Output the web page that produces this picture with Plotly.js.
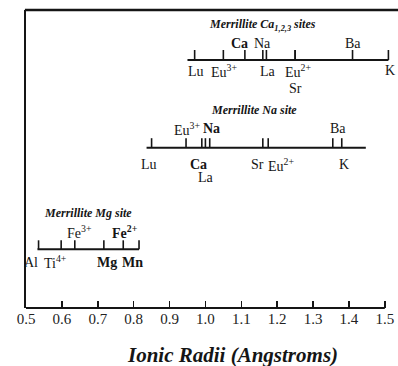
<!DOCTYPE html>
<html>
<head>
<meta charset="utf-8">
<script src="https://cdn.plot.ly/plotly-3.0.1.min.js"></script>
<style>html,body{margin:0;padding:0;background:#fff;}#chart{width:398px;height:366px;}</style>
</head>
<body>
<div id="chart"></div>
<script>
// ---- axis ticks ----
const axisTickVals = [0.5,0.6,0.7,0.8,0.9,1.0,1.1,1.2,1.3,1.4,1.5];
const axisTickText = ['0.5','0.6','0.7','0.8','0.9','1.0','1.1','1.2','1.3','1.4','1.5'];

// ---- Merrillite Ca1,2,3 sites ----
const caIons  = ['Lu','Eu<sup>3+</sup>','Ca','La','Na','Eu<sup>2+</sup>','Sr','Ba','K'];
const caRadii = [0.97, 1.05, 1.11, 1.16, 1.17, 1.25, 1.25, 1.41, 1.51];
const caSpan  = [0.95, 1.51];

// ---- Merrillite Na site ----
const naIons  = ['Lu','Eu<sup>3+</sup>','Ca','La','Na','Sr','Eu<sup>2+</sup>','Ba','K'];
const naRadii = [0.85, 0.946, 0.99, 1.00, 1.012, 1.16, 1.175, 1.355, 1.38];
const naSpan  = [0.836, 1.447];

// ---- Merrillite Mg site ----
const mgIons  = ['Al','Ti<sup>4+</sup>','Fe<sup>3+</sup>','Mg','Fe<sup>2+</sup>','Mn'];
const mgRadii = [0.535, 0.598, 0.636, 0.717, 0.771, 0.815];
const mgSpan  = [0.532, 0.815];

// ---- placement / style (not data) ----
const INK = '#151515';
const SERIF = 'Liberation Serif, Times New Roman, serif';
const groups = [
  {ions: caIons, radii: caRadii, span: caSpan, level: 248, tick: 10,
   title: '<b><i>Merrillite Ca<sub>1,2,3</sub> sites</i></b>', titleX: 1.158, titleY: 283,
   // [xshift, yshift, bold]
   place: [[1,-11,0],[1,-11,0],[-5,17,1],[5,-11,0],[-4,17,0],[3,-11,0],[0,-28,0],[0,17,0],[2,-10,0]]},
  {ions: naIons, radii: naRadii, span: naSpan, level: 160.3, tick: 9.5,
   title: '<b><i>Merrillite Na site</i></b>', titleX: 1.135, titleY: 198,
   place: [[-3,-17,0],[1,19,0],[-3,-17,1],[1,-30,0],[2,19,1],[-5,-17,0],[13,-17,0],[5,19,0],[2,-17,0]]},
  {ions: mgIons, radii: mgRadii, span: mgSpan, level: 58.7, tick: 9,
   title: '<b><i>Merrillite Mg site</i></b>', titleX: 0.673, titleY: 95,
   place: [[-8,-13,0],[-6,-13,0],[5,17,0],[3,-13,1],[2,17,1],[-7,-13,1]]}
];

const traces = [];
const annotations = [];
groups.forEach(g => {
  traces.push({x: g.span, y: [g.level, g.level], mode: 'lines', type: 'scatter',
    line: {color: INK, width: 2}, hoverinfo: 'skip', showlegend: false});
  const tx = [], ty = [];
  g.radii.forEach(r => { tx.push(r, r, null); ty.push(g.level, g.level + g.tick, null); });
  traces.push({x: tx, y: ty, mode: 'lines', type: 'scatter',
    line: {color: INK, width: 1.6}, hoverinfo: 'skip', showlegend: false});
  g.ions.forEach((name, i) => {
    const p = g.place[i];
    annotations.push({x: g.radii[i], y: g.level, xref: 'x', yref: 'y',
      xshift: p[0], yshift: p[1], showarrow: false,
      text: p[2] ? '<b>' + name + '</b>' : name,
      font: {family: SERIF, size: 14, color: INK}});
  });
  annotations.push({x: g.titleX, y: g.titleY, xref: 'x', yref: 'y', showarrow: false,
    text: g.title, font: {family: SERIF, size: 12, color: INK}});
});

annotations.push({x: 0.565, y: -0.158, xref: 'paper', yref: 'paper', showarrow: false,
  xanchor: 'center', yanchor: 'middle',
  text: '<b><i>Ionic Radii (Angstroms)</i></b>',
  font: {family: SERIF, size: 21, color: INK}});

const layout = {
  width: 398, height: 366,
  margin: {l: 26, r: 6, t: 10, b: 58, pad: 0},
  paper_bgcolor: '#fff', plot_bgcolor: '#fff',
  showlegend: false,
  xaxis: {range: [0.5, 1.52], tickvals: axisTickVals, ticktext: axisTickText,
    ticks: 'inside', ticklen: 7, tickwidth: 1.5, tickcolor: INK,
    showline: false, showgrid: false, zeroline: false,
    tickfont: {family: SERIF, size: 15, color: '#222'}, fixedrange: true},
  yaxis: {range: [0, 298], showline: true, linewidth: 2, linecolor: INK,
    showticklabels: false, ticks: '', showgrid: false, zeroline: false, fixedrange: true},
  shapes: [
    {type: 'line', xref: 'paper', yref: 'paper', x0: -0.003, x1: 1.03, y0: 1, y1: 1,
      line: {color: INK, width: 2.5}},
    {type: 'line', xref: 'x', yref: 'paper', x0: 0.5, x1: 1.5, y0: 0, y1: 0,
      line: {color: INK, width: 2}}
  ],
  annotations: annotations
};

Plotly.newPlot('chart', traces, layout, {displayModeBar: false, staticPlot: true});
</script>
</body>
</html>
